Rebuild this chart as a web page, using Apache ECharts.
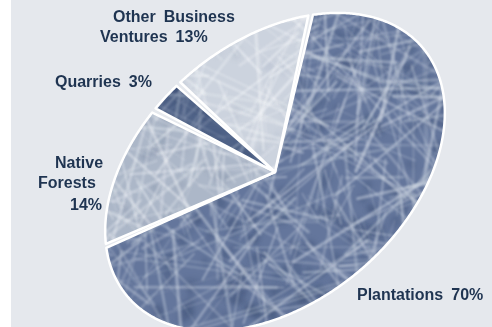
<!DOCTYPE html>
<html>
<head>
<meta charset="utf-8">
<title>Revenue sources</title>
<script src="https://cdn.jsdelivr.net/npm/echarts@6/dist/echarts.min.js"></script>
<style>
  html, body { margin: 0; padding: 0; background: #ffffff; }
  #chart {
    position: absolute; left: 0; top: 0; width: 492px; height: 327px;
    background: linear-gradient(to right, #ffffff 0, #ffffff 11px, #e5e8ed 11px);
  }
</style>
</head>
<body>
<div id="chart"></div>
<script>
// Slices in clockwise order, starting from the top boundary of Plantations
const categories = ['Plantations', 'Native Forests', 'Quarries', 'Other Business Ventures'];
const shares = [70, 14, 3, 13];
// how many words go on each line of a slice's label
const wordsPerLine = [[2], [1, 1, 1], [2], [2, 2]];

// Tilted-ellipse geometry of the pie
const PIE = { cx: 275, cy: 172, a: 193, b: 130, tilt: -40, startDeg: -48.4, padDeg: 0.8, step: 0.5 };
// Left x and vertical middle of each label line
const LABEL_POS = [
  [[357, 296]],
  [[55, 163.5], [38, 184], [70, 205.5]],
  [[55, 82.5]],
  [[113, 17.5], [100, 37.5]]
];
const SLICE_LOOK = [
  { base: '#64769c', dark: '#3f5277', light: '#cfd7e3', seed: 11, blobs: 460, fibers: 540 },
  { base: '#acb7c8', dark: '#8290a8', light: '#f0f3f7', seed: 23, blobs: 260, fibers: 420 },
  { base: '#4f6287', dark: '#31436a', light: '#a3afc3', seed: 37, blobs: 300, fibers: 300 },
  { base: '#ccd3de', dark: '#aab5c6', light: '#f4f6f9', seed: 41, blobs: 200, fibers: 420 }
];

function lcg(seed) {
  let s = seed >>> 0;
  return () => { s = (Math.imul(s, 1664525) + 1013904223) >>> 0; return s / 4294967296; };
}

// Straw-like fibre texture used as the fill of a slice
function fiberTexture(look) {
  const W = 492, H = 327;
  const c = document.createElement('canvas');
  c.width = W; c.height = H;
  const g = c.getContext('2d');
  const rnd = lcg(look.seed);
  g.fillStyle = look.base;
  g.fillRect(0, 0, W, H);
  g.filter = 'blur(2.5px)';
  g.fillStyle = look.dark;
  for (let k = 0; k < look.blobs; k++) {
    g.globalAlpha = 0.2 + rnd() * 0.3;
    g.beginPath();
    g.ellipse(rnd() * W, rnd() * H, 3 + rnd() * 8, 2 + rnd() * 4, rnd() * Math.PI, 0, Math.PI * 2);
    g.fill();
  }
  g.filter = 'blur(1.1px)';
  g.strokeStyle = look.light;
  g.lineCap = 'round';
  for (let k = 0; k < look.fibers; k++) {
    const x = rnd() * W, y = rnd() * H, ang = rnd() * Math.PI, len = 30 + rnd() * 170;
    const dx = Math.cos(ang) * len / 2, dy = Math.sin(ang) * len / 2;
    g.globalAlpha = 0.18 + rnd() * 0.35;
    g.lineWidth = 0.8 + rnd() * 2.4;
    g.beginPath();
    g.moveTo(x - dx, y - dy);
    g.lineTo(x + dx, y + dy);
    g.stroke();
  }
  g.filter = 'none';
  g.globalAlpha = 1;
  return c;
}

const fills = SLICE_LOOK.map(look => ({ image: fiberTexture(look), repeat: 'repeat' }));

function ellipsePoint(tDeg) {
  const t = tDeg * Math.PI / 180, r = PIE.tilt * Math.PI / 180;
  const lx = PIE.a * Math.cos(t), ly = PIE.b * Math.sin(t);
  return [PIE.cx + lx * Math.cos(r) - ly * Math.sin(r), PIE.cy + lx * Math.sin(r) + ly * Math.cos(r)];
}

const total = shares.reduce((s, v) => s + v, 0);

function renderSlice(params, api) {
  const i = params.dataIndex;
  let before = 0;
  for (let j = 0; j < i; j++) before += shares[j];
  const t0 = PIE.startDeg + before / total * 360 + PIE.padDeg;
  const t1 = PIE.startDeg + (before + api.value(0)) / total * 360 - PIE.padDeg;
  const pts = [[PIE.cx, PIE.cy]];
  for (let t = t0; t < t1; t += PIE.step) pts.push(ellipsePoint(t));
  pts.push(ellipsePoint(t1));
  return {
    type: 'polygon',
    shape: { points: pts },
    style: { fill: fills[i], stroke: '#ffffff', lineWidth: 2.5, lineJoin: 'round' }
  };
}

// Label text elements, built from the category names and shares
const labelTexts = [];
categories.forEach((name, i) => {
  const words = (name + ' ' + shares[i] + '%').split(' ');
  let w = 0;
  wordsPerLine[i].forEach((n, li) => {
    const line = words.slice(w, w + n).join('\u2002');
    w += n;
    const [x, y] = LABEL_POS[i][li];
    labelTexts.push({
      type: 'text', x: x, y: y, silent: true,
      style: {
        text: line, fill: '#1f3451',
        font: 'bold 16px "Liberation Sans", Arial, sans-serif',
        align: 'left', verticalAlign: 'middle'
      }
    });
  });
});

const chart = echarts.init(document.getElementById('chart'), null, { renderer: 'canvas' });
chart.setOption({
  animation: false,
  backgroundColor: 'transparent',
  series: [{
    type: 'custom',
    coordinateSystem: 'none',
    data: shares.map((v, i) => ({ name: categories[i], value: v })),
    renderItem: renderSlice
  }],
  graphic: labelTexts
});
</script>
</body>
</html>
